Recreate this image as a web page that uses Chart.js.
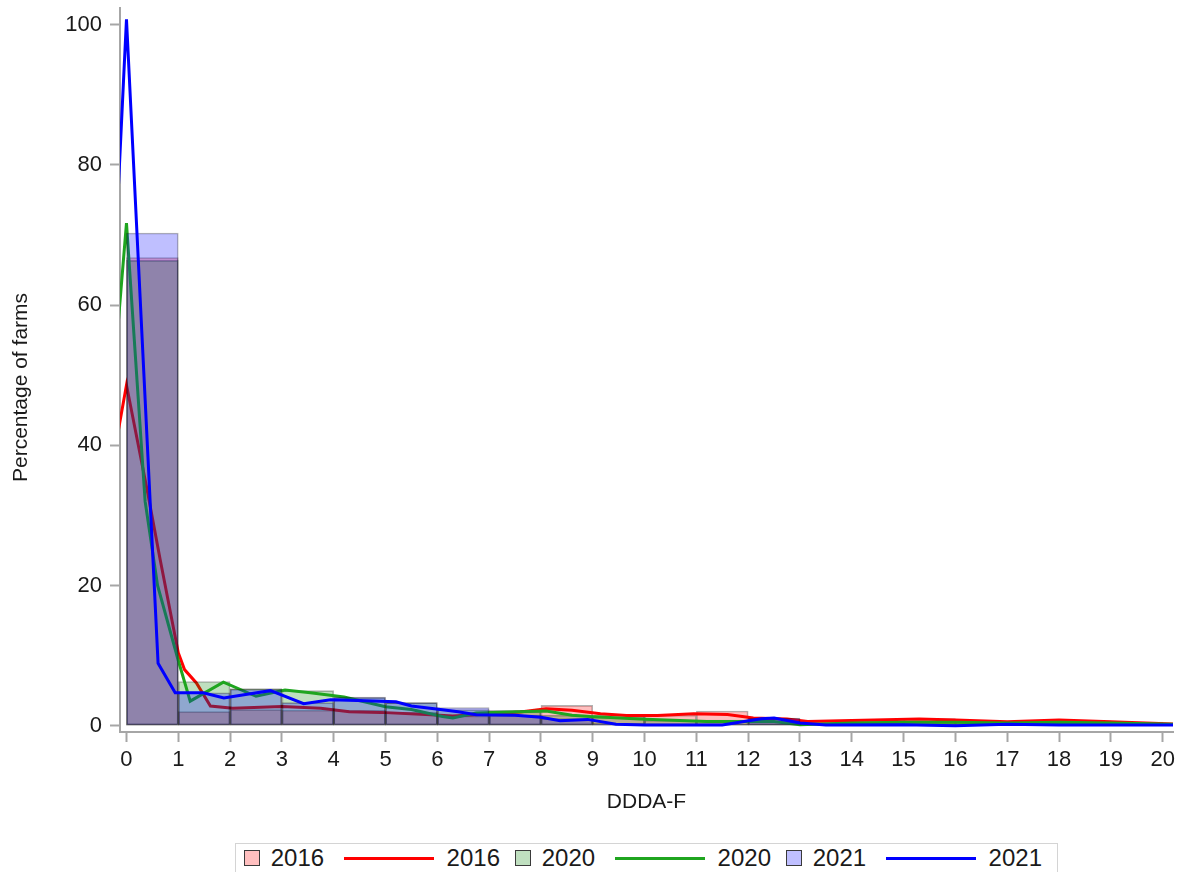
<!DOCTYPE html>
<html>
<head>
<meta charset="utf-8">
<title>DDDA-F</title>
<script src="https://cdn.jsdelivr.net/npm/chart.js@4.4.1/dist/chart.umd.min.js"></script>
<style>
  html,body{margin:0;padding:0;background:#fff;overflow:hidden}
  #wrap{position:relative;width:1185px;height:835px}
  #lg{position:absolute;left:235px;top:843px;width:823px;height:30px;border:1px solid #d4d4d4;box-sizing:border-box;
      display:flex;align-items:center;padding-left:8px;font:24px 'Liberation Sans',Arial,sans-serif;color:#1a1a1a;white-space:nowrap}
  #lg .sq{display:inline-block;width:14px;height:14px;border:1.5px solid #3a3a3a;margin-right:11px}
  #lg .t1{margin-right:20px}
  #lg .ln{display:inline-block;width:91px;height:3px;margin-right:13px}
  #lg .t2{margin-right:15px}
</style>
</head>
<body>
<div id="wrap"><canvas id="c"></canvas></div>
<div id="lg"></div>
<script>
/* 연도별 DDDA-F 분포: 히스토그램(반투명 막대) + 밀도 곡선 */

const YEARS = ['2016', '2020', '2021'];

// 구간 중심 (구간 폭 1)
const BIN_MID = [0.5, 1.5, 2.5, 3.5, 4.5, 5.5, 6.5, 7.5, 8.5, 9.5,
                 10.5, 11.5, 12.5, 13.5, 14.5, 15.5, 16.5, 17.5, 18.5, 19.5];

// 구간별 농가 비율(%)
const HIST_2016 = [66.8, 2.0, 2.3, 2.2, 2.2, 1.9, 1.4, 2.0, 2.9, 1.5, 1.5, 2.1, 1.0, 0.6, 0.7, 1.0, 0.6, 0.6, 0.7, 0.5];
const HIST_2020 = [66.4, 6.3, 5.3, 5.0, 4.0, 3.3, 2.3, 2.2, 1.5, 1.2, 0.8, 0.8, 0.7, 0.3, 0.4, 0.5, 0.4, 0.4, 0.4, 0.3];
const HIST_2021 = [70.3, 4.7, 5.2, 3.3, 4.1, 3.3, 2.6, 1.5, 1.0, 0.3, 0.1, 0.2, 1.1, 0.2, 0.2, 0.1, 0.1, 0.2, 0.1, 0.1];

// 밀도 곡선 (x, %)
const DENS_X_2016 = [-0.5, 0, 0.41, 0.65, 1.0, 1.12, 1.35, 1.62, 2.05, 3.0, 3.75, 4.3, 4.9, 5.87, 6.3, 6.9, 7.6, 8.1,
                     8.6, 9.15, 9.65, 10.25, 10.95, 11.6, 12.1, 12.75, 13.15, 14.0, 15.3, 16.0, 17.0, 18.0, 19.0, 20.2];
const DENS_2016   = [28, 48.6, 33.2, 23.7, 10.4, 8.0, 6.1, 2.8, 2.5, 2.75, 2.5, 2.0, 1.9, 1.55, 1.4, 1.65, 1.95, 2.4,
                     2.2, 1.7, 1.45, 1.45, 1.7, 1.6, 1.1, 0.95, 0.6, 0.75, 0.95, 0.8, 0.55, 0.8, 0.55, 0.25];

const DENS_X_2020 = [-0.5, 0, 0.36, 0.6, 1.0, 1.23, 1.87, 2.5, 3.06, 3.55, 4.2, 5.0, 5.5, 6.1, 6.3, 6.75, 7.4, 8.1,
                     8.6, 8.95, 9.9, 11.2, 12.5, 13.0, 14.0, 15.0, 16.0, 17.0, 18.0, 19.0, 20.2];
const DENS_2020   = [27, 71.7, 32, 20, 9.3, 3.5, 6.2, 4.2, 5.1, 4.7, 4.1, 2.7, 2.3, 1.3, 1.1, 1.8, 1.95, 2.1,
                     1.5, 1.3, 0.95, 0.6, 0.6, 0.15, 0.4, 0.5, 0.5, 0.4, 0.5, 0.4, 0.2];

const DENS_X_2021 = [-0.5, 0, 0.61, 0.94, 1.48, 1.88, 2.33, 2.78, 3.42, 3.94, 4.45, 5.2, 5.5, 6.06, 6.4, 6.75, 7.5, 8.0,
                     8.37, 8.9, 9.45, 10.0, 11.5, 12.25, 12.5, 13.0, 13.5, 15.0, 16.0, 17.0, 18.0, 19.0, 20.2];
const DENS_2021   = [24, 100.8, 8.9, 4.7, 4.7, 3.95, 4.5, 5.0, 3.15, 3.7, 3.6, 3.4, 2.8, 2.3, 2.0, 1.55, 1.5, 1.2,
                     0.7, 0.9, 0.2, 0.1, 0.1, 1.0, 1.1, 0.4, 0.1, 0.15, 0.0, 0.2, 0.1, 0.1, 0.1];

const FILL = ['rgba(255,0,0,0.25)', 'rgba(0,128,0,0.25)', 'rgba(0,0,255,0.25)'];
const LINE = ['#ff0000', '#1fa51f', '#0000ff'];
const AXIS = '#a6a6a6';

const pts = (xs, ys) => xs.map((x, i) => ({x, y: ys[i]}));

// 먼저 그린 연도가 아래에 깔리도록 order를 내림차순으로
function histSet(i, vals){
  return {
    type:'bar', label:YEARS[i], data:pts(BIN_MID, vals),
    backgroundColor:FILL[i], borderColor:'rgba(0,0,0,0.3)', borderWidth:1, borderSkipped:false,
    grouped:false, barPercentage:1, categoryPercentage:1, order:6 - 2*i
  };
}
function densSet(i, xs, ys){
  return {
    type:'line', label:YEARS[i], data:pts(xs, ys),
    borderColor:LINE[i], backgroundColor:LINE[i], borderWidth:3, pointRadius:0,
    tension:0, fill:false, order:5 - 2*i
  };
}

Chart.defaults.font.family = "'Liberation Sans', Arial, sans-serif";
Chart.defaults.color = '#1a1a1a';

new Chart(document.getElementById('c'), {
  type:'bar',
  data:{datasets:[
    histSet(0, HIST_2016), densSet(0, DENS_X_2016, DENS_2016),
    histSet(1, HIST_2020), densSet(1, DENS_X_2020, DENS_2020),
    histSet(2, HIST_2021), densSet(2, DENS_X_2021, DENS_2021)
  ]},
  options:{
    responsive:true, maintainAspectRatio:false, animation:false, events:[],
    layout:{padding:{top:8, right:12, bottom:0, left:0}},
    plugins:{legend:{display:false}, tooltip:{enabled:false}},
    scales:{
      x:{
        type:'linear', min:-0.125, max:20.2, offset:false,
        ticks:{stepSize:1, includeBounds:false, autoSkip:false, maxRotation:0, padding:5, font:{size:22}},
        grid:{offset:false, drawOnChartArea:false, tickLength:10, tickColor:AXIS, tickWidth:2},
        border:{color:AXIS, width:2},
        title:{display:true, text:'DDDA-F', font:{size:21}, padding:{top:0, bottom:20}},
        afterFit(s){ s.height = 103; s.paddingLeft = 0; s.paddingRight = 0; }
      },
      y:{
        type:'linear', min:-0.9, max:102.4,
        ticks:{stepSize:20, includeBounds:false, padding:8, font:{size:22}},
        grid:{drawOnChartArea:false, tickLength:10, tickColor:AXIS, tickWidth:2},
        border:{color:AXIS, width:2},
        // 뒤쪽 공백으로 제목을 축 아래쪽으로 조금 내림
        title:{display:true, text:'Percentage of farms      ', font:{size:21}, padding:{top:9, bottom:0}},
        afterFit(s){ s.width = 120; s.paddingTop = 0; s.paddingBottom = 0; }
      }
    }
  }
});

// 범례: 막대 견본 + 곡선 견본 (연도 순)
document.getElementById('lg').innerHTML = YEARS.map((y, i) =>
  `<span class="sq" style="background:${FILL[i]}"></span><span class="t1">${y}</span>` +
  `<span class="ln" style="background:${LINE[i]}"></span><span class="t2">${y}</span>`
).join('');
</script>
</body>
</html>
